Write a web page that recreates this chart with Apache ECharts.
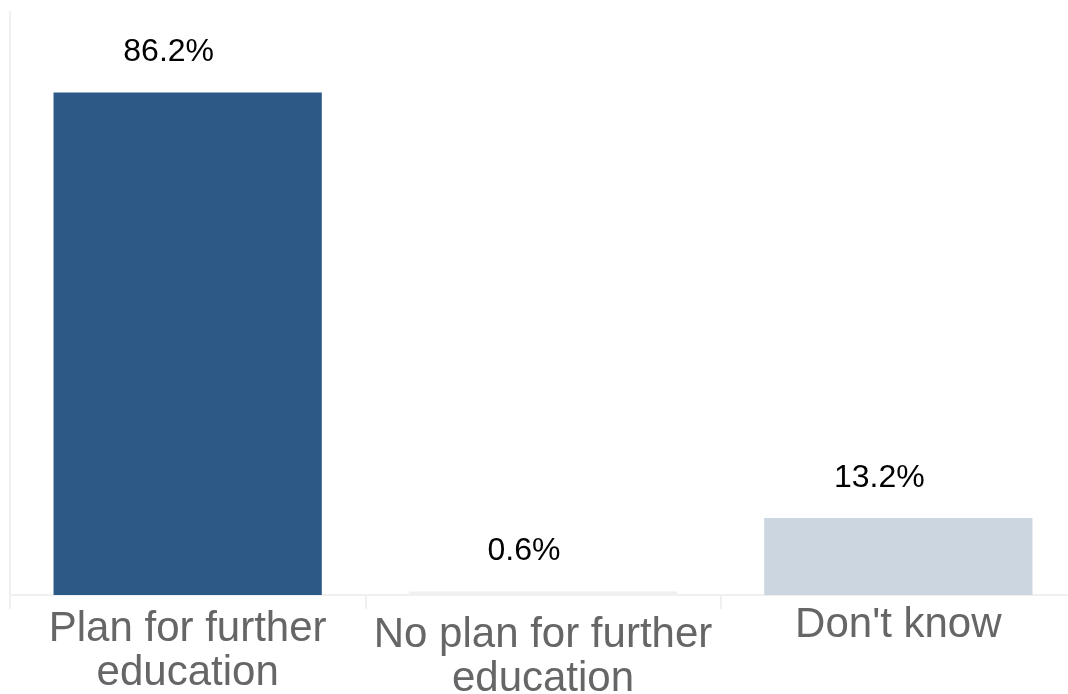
<!DOCTYPE html>
<html>
<head>
<meta charset="utf-8">
<script src="https://cdn.jsdelivr.net/npm/echarts@6/dist/echarts.min.js"></script>
<style>html,body{margin:0;padding:0;background:#fff}#c{width:1068px;height:694px}</style>
</head>
<body>
<div id="c"></div>
<script>
var categories = ['Plan for further\neducation', 'No plan for further\neducation', "Don't know"];
var values = [86.2, 0.6, 13.2];
var barColors = ['#2c5985', '#f0f0f0', '#cbd6e1'];
var labelPads = [[4,0,0,0],[10,0,0,0],[0,0,0,0]];

var chart = echarts.init(document.getElementById('c'));
chart.setOption({
  animation: false,
  grid: {left: 10, right: -8, top: 12, bottom: 99, containLabel: false, outerBoundsMode: 'none'},
  xAxis: {
    type: 'category',
    data: categories.map(function(c, i){ return {value: c, textStyle: {padding: labelPads[i]}}; }),
    axisLine: {show: true, lineStyle: {color: '#f0f0f0', width: 2}},
    axisTick: {show: true, length: 14, lineStyle: {color: '#f0f0f0', width: 2}},
    axisLabel: {interval: 0, color: '#666666', fontSize: 42, lineHeight: 44, margin: 8, fontFamily: 'Liberation Sans, Arial, sans-serif'}
  },
  yAxis: {
    type: 'value', min: 0, max: 100,
    axisLine: {show: true, lineStyle: {color: '#f0f0f0', width: 2}},
    axisTick: {show: false}, axisLabel: {show: false}, splitLine: {show: false}
  },
  series: [{
    type: 'bar',
    barWidth: '75.5%',
    data: values.map(function(v, i){ return {value: v, itemStyle: {color: barColors[i]}}; }),
    label: {show: true, position: 'top', distance: 24, offset: [-19, 0], color: '#000', fontSize: 32, fontFamily: 'Liberation Sans, Arial, sans-serif',
      formatter: function(p){ return p.value.toFixed(1) + '%'; }}
  }]
});
</script>
</body>
</html>
